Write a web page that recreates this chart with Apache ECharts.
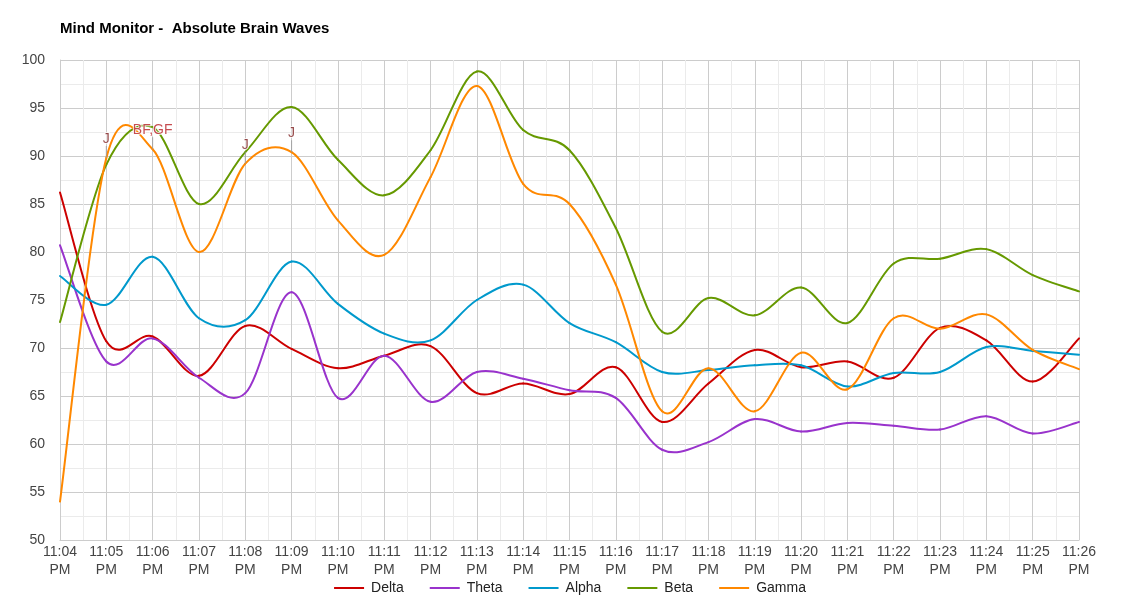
<!DOCTYPE html>
<html>
<head>
<meta charset="utf-8">
<script src="https://cdn.jsdelivr.net/npm/echarts@6/dist/echarts.min.js"></script>
<style>
  html, body { margin: 0; padding: 0; background: #fff; }
  #chart { width: 1140px; height: 600px; }
</style>
</head>
<body>
<div id="chart"></div>
<script>
const timeLabels = ['11:04','11:05','11:06','11:07','11:08','11:09','11:10','11:11','11:12','11:13','11:14','11:15','11:16','11:17','11:18','11:19','11:20','11:21','11:22','11:23','11:24','11:25','11:26'];
const delta = [86.2, 70.7, 71.2, 67.1, 72.3, 69.9, 67.9, 69.2, 70.2, 65.3, 66.3, 65.2, 68.0, 62.3, 66.3, 69.8, 68.0, 68.6, 66.9, 72.1, 70.8, 66.5, 71.0];
const theta = [80.7, 68.6, 71.0, 66.9, 65.3, 75.8, 64.8, 69.2, 64.4, 67.5, 66.8, 65.6, 64.8, 59.4, 60.2, 62.6, 61.3, 62.2, 61.9, 61.5, 62.9, 61.1, 62.3];
const alpha = [77.5, 74.5, 79.5, 73.1, 72.9, 79.0, 74.6, 71.5, 70.8, 75.0, 76.6, 72.6, 70.6, 67.5, 67.7, 68.2, 68.2, 66.0, 67.4, 67.5, 70.1, 69.7, 69.3];
const beta  = [72.7, 89.1, 93.0, 85.0, 90.4, 95.1, 89.6, 85.9, 90.6, 98.8, 92.7, 90.6, 82.5, 71.7, 75.2, 73.4, 76.3, 72.6, 78.8, 79.3, 80.3, 77.6, 75.9];
const gamma = [54.0, 89.8, 90.7, 80.0, 89.2, 90.4, 83.3, 79.7, 87.8, 97.3, 87.1, 85.0, 76.6, 63.4, 67.9, 63.4, 69.5, 65.7, 73.1, 72.0, 73.5, 69.8, 67.8];
const annotationIndex = [1, 2, 4, 5];
const annotationText = ['J', 'BF,GF', 'J', 'J'];
const annotationColors = ['#7c1c1c', '#b81f24', '#7c1c1c', '#7c1c1c'];

const seriesNames = ['Delta', 'Theta', 'Alpha', 'Beta', 'Gamma'];
const seriesData = [delta, theta, alpha, beta, gamma];
const colors = ['#cc0000', '#9933cc', '#0099cc', '#669900', '#ff8800'];
const FONT = '"Liberation Sans", Arial, sans-serif';

const chart = echarts.init(document.getElementById('chart'), null, { renderer: 'canvas' });

// Smooth curve segments (Catmull-Rom style) drawn through the axes' own coordinate mapping
function makeRenderItem(color) {
  return function (params, api) {
    const i = params.dataIndexInside;
    const n = params.dataInsideLength;
    if (i >= n - 1) return null;
    const pt = k => api.coord([api.value(0, k), api.value(1, k)]);
    const p0 = pt(Math.max(i - 1, 0));
    const p1 = pt(i);
    const p2 = pt(i + 1);
    const p3 = pt(Math.min(i + 2, n - 1));
    const t = 1 / 6;
    return {
      type: 'bezierCurve',
      shape: {
        x1: p1[0], y1: p1[1],
        x2: p2[0], y2: p2[1],
        cpx1: p1[0] + (p2[0] - p0[0]) * t,
        cpy1: p1[1] + (p2[1] - p0[1]) * t,
        cpx2: p2[0] - (p3[0] - p1[0]) * t,
        cpy2: p2[1] - (p3[1] - p1[1]) * t
      },
      style: { stroke: color, lineWidth: 2, fill: 'none', lineCap: 'round', lineJoin: 'round' },
      silent: true
    };
  };
}

const series = seriesNames.map((name, k) => ({
  name: name,
  type: 'custom',
  coordinateSystem: 'cartesian2d',
  renderItem: makeRenderItem(colors[k]),
  itemStyle: { color: colors[k] },
  encode: { x: 0, y: 1 },
  data: seriesData[k].map((v, i) => [i, v]),
  z: 2
}));

series.push({
  name: 'Annotations',
  type: 'scatter',
  z: 10,
  silent: true,
  symbol: 'rect',
  symbolSize: [1, 12],
  symbolOffset: [0, -6],
  itemStyle: { color: '#999999' },
  label: {
    show: true,
    position: 'top',
    distance: 0,
    fontSize: 14,
    fontFamily: FONT,
    textBorderColor: '#ffffff',
    textBorderWidth: 2
  },
  data: annotationIndex.map((idx, j) => ({
    value: [idx, gamma[idx]],
    label: { formatter: annotationText[j], color: annotationColors[j] }
  }))
});

chart.setOption({
  animation: false,
  color: colors,
  title: {
    text: 'Mind Monitor -  Absolute Brain Waves',
    left: 60,
    top: 21,
    padding: 0,
    textStyle: { fontSize: 15, fontWeight: 'bold', color: '#000', fontFamily: FONT }
  },
  legend: {
    bottom: 0,
    left: 'center',
    icon: 'rect',
    itemWidth: 30,
    itemHeight: 2,
    itemGap: 26,
    textStyle: { fontSize: 14, color: '#222', fontFamily: FONT, padding: [0, 0, 0, 2] },
    data: seriesNames
  },
  grid: { left: 60, right: 61, top: 60, bottom: 60, containLabel: false },
  xAxis: {
    type: 'value',
    min: 0,
    max: timeLabels.length - 1,
    interval: 1,
    axisLine: { show: true, lineStyle: { color: '#cccccc' } },
    axisTick: { show: false },
    axisLabel: {
      fontSize: 14,
      color: '#444',
      fontFamily: FONT,
      lineHeight: 18,
      margin: 3,
      formatter: v => timeLabels[v] + '\nPM'
    },
    splitLine: { show: true, lineStyle: { color: '#cccccc', width: 1 } },
    minorTick: { show: false, splitNumber: 2 },
    minorSplitLine: { show: true, lineStyle: { color: '#ebebeb', width: 1 } }
  },
  yAxis: {
    type: 'value',
    min: 50,
    max: 100,
    interval: 5,
    axisLine: { show: true, lineStyle: { color: '#cccccc' } },
    axisTick: { show: false },
    axisLabel: { fontSize: 14, color: '#444', fontFamily: FONT, margin: 15 },
    splitLine: { show: true, lineStyle: { color: '#cccccc', width: 1 } },
    minorTick: { show: false, splitNumber: 2 },
    minorSplitLine: { show: true, lineStyle: { color: '#ebebeb', width: 1 } }
  },
  series: series
});
</script>
</body>
</html>
